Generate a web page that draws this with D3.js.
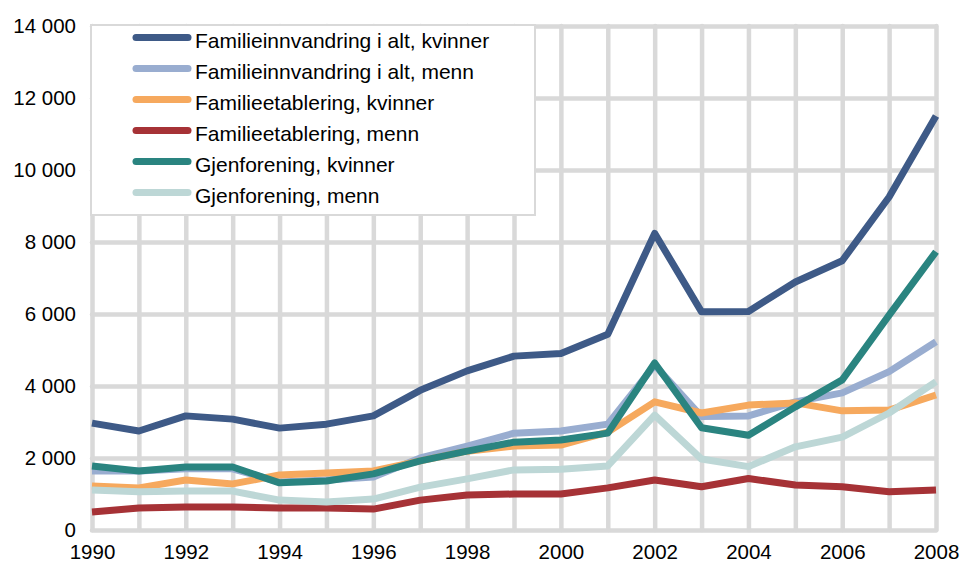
<!DOCTYPE html>
<html>
<head>
<meta charset="utf-8">
<script src="https://cdn.jsdelivr.net/npm/d3@7"></script>
<style>
  body { margin: 0; background: #fff; }
  svg { font-family: "Liberation Sans", Arial, sans-serif; }
  .grid line { stroke: #d9d9d9; stroke-width: 4.5; }
  .grid .domain { display: none; }
  .axis .domain, .axis line { display: none; }
  .axis text { font-size: 20.5px; fill: #000; }
</style>
</head>
<body>
<svg width="960" height="562"></svg>
<script>
var years = [1990,1991,1992,1993,1994,1995,1996,1997,1998,1999,2000,2001,2002,2003,2004,2005,2006,2007,2008];

var innvKvinner = [2970,2750,3170,3080,2830,2940,3170,3880,4420,4830,4900,5440,8240,6060,6070,6890,7480,9250,11500];
var innvMenn    = [1640,1640,1700,1700,1330,1390,1470,2000,2330,2690,2750,2940,4580,3150,3170,3560,3810,4400,5230];
var etabKvinner = [1220,1170,1390,1280,1530,1580,1640,1920,2190,2330,2360,2720,3560,3250,3470,3530,3310,3330,3750];
var etabMenn    = [500,610,640,640,610,610,580,830,970,1000,1000,1170,1390,1200,1430,1250,1200,1060,1110];
var gjenKvinner = [1780,1640,1750,1750,1310,1360,1560,1920,2190,2440,2500,2690,4640,2840,2630,3420,4170,5970,7730];
var gjenMenn    = [1110,1060,1080,1080,830,780,860,1190,1420,1670,1690,1780,3190,1970,1760,2310,2580,3250,4120];

var seriesNames = ["Familieinnvandring i alt, kvinner","Familieinnvandring i alt, menn","Familieetablering, kvinner","Familieetablering, menn","Gjenforening, kvinner","Gjenforening, menn"];
var seriesValues = [innvKvinner, innvMenn, etabKvinner, etabMenn, gjenKvinner, gjenMenn];
var colors = ["#3e5a87","#99add0","#f6a95e","#a63236","#2a8480","#bdd7d6"];

var yTicks = [0,2000,4000,6000,8000,10000,12000,14000];
var xTicks = [1990,1992,1994,1996,1998,2000,2002,2004,2006,2008];

var svg = d3.select("svg");
var padding = {top: 26, right: 24, bottom: 32, left: 92};
var chartArea = {
  "width": 960 - padding.left - padding.right,
  "height": 562 - padding.top - padding.bottom};

var nb = d3.formatLocale({decimal: ",", thousands: " ", grouping: [3], currency: ["", " kr"]});
var fmt = nb.format(",");

var xScale = d3.scaleLinear()
  .domain([1990, 2008])
  .range([0, chartArea.width]);
var yScale = d3.scaleLinear()
  .domain([0, 14000])
  .range([chartArea.height, 0]);

var g = svg.append("g")
  .attr("transform", "translate(" + padding.left + "," + padding.top + ")");

// grid (vertical every year, horizontal every 2000)
g.append("g")
  .attr("class", "grid")
  .call(d3.axisLeft(yScale).tickValues(yTicks).tickSize(-chartArea.width).tickFormat(""));
g.append("g")
  .attr("class", "grid")
  .attr("transform", "translate(0," + chartArea.height + ")")
  .call(d3.axisBottom(xScale).tickValues(years).tickSize(-chartArea.height).tickFormat(""));
g.selectAll(".grid line").attr("stroke-linecap", "round");

// axes labels
var yAxis = g.append("g")
  .attr("class", "axis")
  .call(d3.axisLeft(yScale).tickValues(yTicks).tickSize(0).tickPadding(16).tickFormat(fmt));
var xAxis = g.append("g")
  .attr("class", "axis")
  .attr("transform", "translate(0," + chartArea.height + ")")
  .call(d3.axisBottom(xScale).tickValues(xTicks).tickSize(0).tickPadding(14).tickFormat(d3.format("d")));

var line = d3.line()
  .x(function (d, i) { return xScale(years[i]); })
  .y(function (d) { return yScale(d); });

g.selectAll(".series").data(seriesValues).enter()
  .append("path")
  .attr("class", "series")
  .attr("d", function (d) { return line(d); })
  .attr("fill", "none")
  .attr("stroke", function (d, i) { return colors[i]; })
  .attr("stroke-width", 7)
  .attr("stroke-linejoin", "round");

// legend
var legend = svg.append("g").attr("transform", "translate(91,25)");
legend.append("rect")
  .attr("width", 444)
  .attr("height", 190)
  .attr("fill", "#fff")
  .attr("stroke", "#d9d9d9")
  .attr("stroke-width", 2);
var items = legend.selectAll(".item").data(seriesNames).enter()
  .append("g")
  .attr("class", "item")
  .attr("transform", function (d, i) { return "translate(0," + (12.5 + i * 31) + ")"; });
items.append("line")
  .attr("x1", 45).attr("x2", 97)
  .attr("stroke", function (d, i) { return colors[i]; })
  .attr("stroke-width", 7)
  .attr("stroke-linecap", "round");
items.append("text")
  .attr("x", 104)
  .attr("y", 3)
  .attr("dy", "0.35em")
  .style("font-size", "21px")
  .text(function (d) { return d; });
</script>
</body>
</html>
